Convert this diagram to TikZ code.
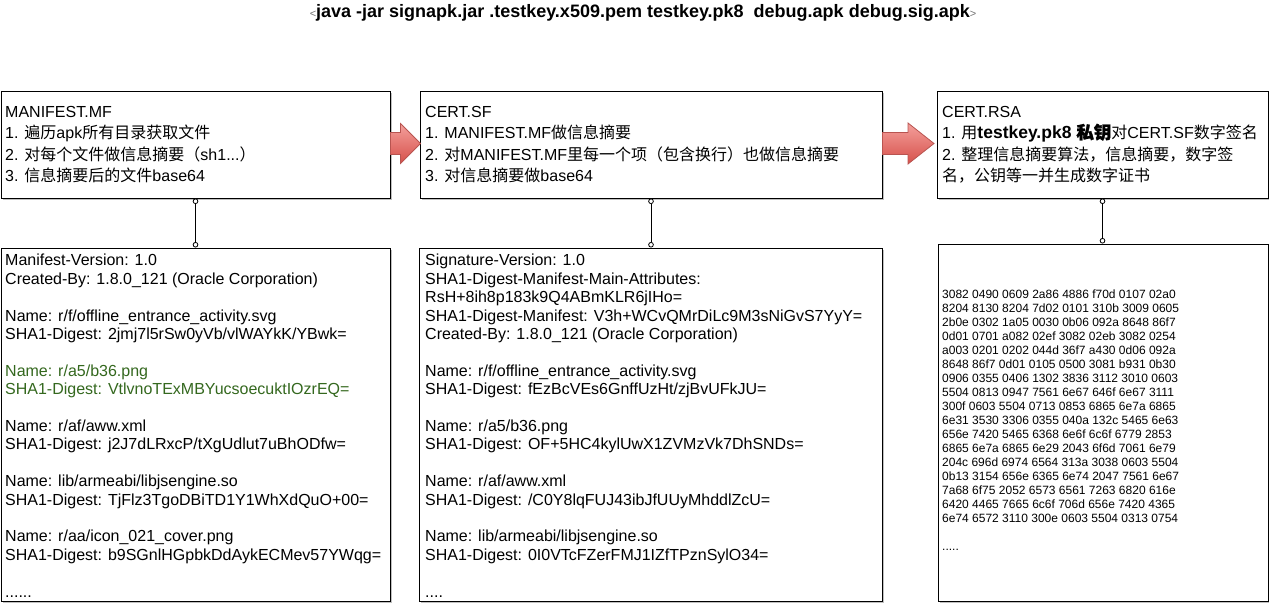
\documentclass[tikz,border=0pt]{standalone}
\usepackage{fontspec}
\setmainfont{Liberation Sans}
\newfontfamily\cjk{Noto Sans CJK SC}
\newfontfamily\cjkbf[FakeBold=1.5]{Noto Sans CJK SC}
\usetikzlibrary{arrows.meta,shadows}
\definecolor{dgreen}{RGB}{52,104,30}
\definecolor{arrowtop}{RGB}{244,160,156}
\definecolor{arrowbot}{RGB}{214,80,74}
\definecolor{arrowline}{RGB}{184,84,80}
\begin{document}
\begin{tikzpicture}[x=1pt,y=-1pt,
  box/.style={draw=black, line width=1pt, fill=white, inner sep=0pt, anchor=north west,
    drop shadow={shadow xshift=1.5pt, shadow yshift=-1.5pt, opacity=0.25, fill=black}},
  txt/.style={anchor=north west, inner sep=0pt, align=left},
  toptxt/.style={txt, font=\fontsize{16}{21.4}\selectfont},
  bottxt/.style={txt, font=\fontsize{16}{18.4}\selectfont},
  hextxt/.style={txt, font=\fontsize{12}{14}\selectfont},
  conn/.style={line width=0.8pt, {Circle[open,length=5.5pt,width=5.5pt,fill=white]}-{Circle[open,length=5.5pt,width=5.5pt,fill=white]}},
  barrow/.style={draw=arrowline, line width=0.8pt, top color=arrowtop, bottom color=arrowbot}
]
\useasboundingbox (0,0) rectangle (1269,605);

% title
\node[font=\bfseries\fontsize{18}{21}\selectfont] (title) at (643,13)
  {{\color{black!55}\mdseries\fontsize{11}{12}\selectfont<}java -jar signapk.jar .testkey.x509.pem testkey.pk8\ \ debug.apk debug.sig.apk{\color{black!55}\mdseries\fontsize{11}{12}\selectfont>}};

% top boxes
\node[box, minimum width=389pt, minimum height=107pt] (mf) at (0.5,90.5) {};
\node[box, minimum width=462pt, minimum height=107pt] (sf) at (419.5,90.5) {};
\node[box, minimum width=331pt, minimum height=107pt] (rsa) at (936.5,90.5) {};

% bottom boxes
\node[box, minimum width=389pt, minimum height=353pt] (mfc) at (0.5,247.5) {};
\node[box, minimum width=463pt, minimum height=353pt] (sfc) at (418.5,247.5) {};
\node[box, minimum width=330pt, minimum height=357pt] (rsac) at (937.5,243.5) {};

% texts of top boxes
\node[toptxt] (mft) at (5,106) {MANIFEST.MF\\
1. {\cjk 遍历}apk{\cjk 所有目录获取文件}\\
2. {\cjk 对每个文件做信息摘要（}sh1...{\cjk ）}\\
3. {\cjk 信息摘要后的文件}base64};
\node[toptxt] (sft) at (425,106) {CERT.SF\\
1. MANIFEST.MF{\cjk 做信息摘要}\\
2. {\cjk 对}MANIFEST.MF{\cjk 里每一个项（包含换行）也做信息摘要}\\
3. {\cjk 对信息摘要做}base64};
\node[toptxt] (rsat) at (942,106) {CERT.RSA\\
1. {\cjk 用}{\fontsize{17.5}{21.4}\selectfont\bfseries testkey.pk8 {\cjkbf 私钥}}{\cjk 对}CERT.SF{\cjk 数字签名}\\
2. {\cjk 整理信息摘要算法，信息摘要，数字签}\\
{\cjk 名，公钥等一并生成数字证书}};

% texts of bottom boxes
\node[bottxt] (mfct) at (5,254) {Manifest-Version: 1.0\\
Created-By: 1.8.0\_121 (Oracle Corporation)\\[18.4pt]
Name: r/f/offline\_entrance\_activity.svg\\
SHA1-Digest: 2jmj7l5rSw0yVb/vlWAYkK/YBwk=\\[18.4pt]
\textcolor{dgreen}{Name: r/a5/b36.png}\\
\textcolor{dgreen}{SHA1-Digest: VtlvnoTExMBYucsoecuktIOzrEQ=}\\[18.4pt]
Name: r/af/aww.xml\\
SHA1-Digest: j2J7dLRxcP/tXgUdlut7uBhODfw=\\[18.4pt]
Name: lib/armeabi/libjsengine.so\\
SHA1-Digest: TjFlz3TgoDBiTD1Y1WhXdQuO+00=\\[18.4pt]
Name: r/aa/icon\_021\_cover.png\\
SHA1-Digest: b9SGnlHGpbkDdAykECMev57YWqg=\\[18.4pt]
......};

\node[bottxt] (sfct) at (425,254) {Signature-Version: 1.0\\
SHA1-Digest-Manifest-Main-Attributes:\\
RsH+8ih8p183k9Q4ABmKLR6jIHo=\\
SHA1-Digest-Manifest: V3h+WCvQMrDiLc9M3sNiGvS7YyY=\\
Created-By: 1.8.0\_121 (Oracle Corporation)\\[18.4pt]
Name: r/f/offline\_entrance\_activity.svg\\
SHA1-Digest: fEzBcVEs6GnffUzHt/zjBvUFkJU=\\[18.4pt]
Name: r/a5/b36.png\\
SHA1-Digest: OF+5HC4kylUwX1ZVMzVk7DhSNDs=\\[18.4pt]
Name: r/af/aww.xml\\
SHA1-Digest: /C0Y8lqFUJ43ibJfUUyMhddlZcU=\\[18.4pt]
Name: lib/armeabi/libjsengine.so\\
SHA1-Digest: 0I0VTcFZerFMJ1IZfTPznSylO34=\\[18.4pt]
....};

\node[hextxt] (rsact) at (942,290) {3082 0490 0609 2a86 4886 f70d 0107 02a0\\
8204 8130 8204 7d02 0101 310b 3009 0605\\
2b0e 0302 1a05 0030 0b06 092a 8648 86f7\\
0d01 0701 a082 02ef 3082 02eb 3082 0254\\
a003 0201 0202 044d 36f7 a430 0d06 092a\\
8648 86f7 0d01 0105 0500 3081 b931 0b30\\
0906 0355 0406 1302 3836 3112 3010 0603\\
5504 0813 0947 7561 6e67 646f 6e67 3111\\
300f 0603 5504 0713 0853 6865 6e7a 6865\\
6e31 3530 3306 0355 040a 132c 5465 6e63\\
656e 7420 5465 6368 6e6f 6c6f 6779 2853\\
6865 6e7a 6865 6e29 2043 6f6d 7061 6e79\\
204c 696d 6974 6564 313a 3038 0603 5504\\
0b13 3154 656e 6365 6e74 2047 7561 6e67\\
7a68 6f75 2052 6573 6561 7263 6820 616e\\
6420 4465 7665 6c6f 706d 656e 7420 4365\\
6e74 6572 3110 300e 0603 5504 0313 0754\\[14pt]
.....};

% connectors
\draw[conn] (mf.south) -- (mf.south |- mfc.north);
\draw[conn] (sf.south) -- (sf.south |- sfc.north);
\draw[conn] (rsa.south) -- (rsa.south |- rsac.north);

% block arrows from box to box
\draw[barrow] (mf.east) ++(0,-1) ++(0,-11) -- ++(10,0) -- ++(0,-9) -- ++(20,20) -- ++(-20,20) -- ++(0,-9) -- ++(-10,0) -- cycle;
\draw[barrow] (sf.east) ++(0,-1) ++(0,-11) -- ++(25.5,0) -- ++(0,-9.5) -- ++(26,20.5) -- ++(-26,20.5) -- ++(0,-9.5) -- ++(-25.5,0) -- cycle;
\end{tikzpicture}
\end{document}
